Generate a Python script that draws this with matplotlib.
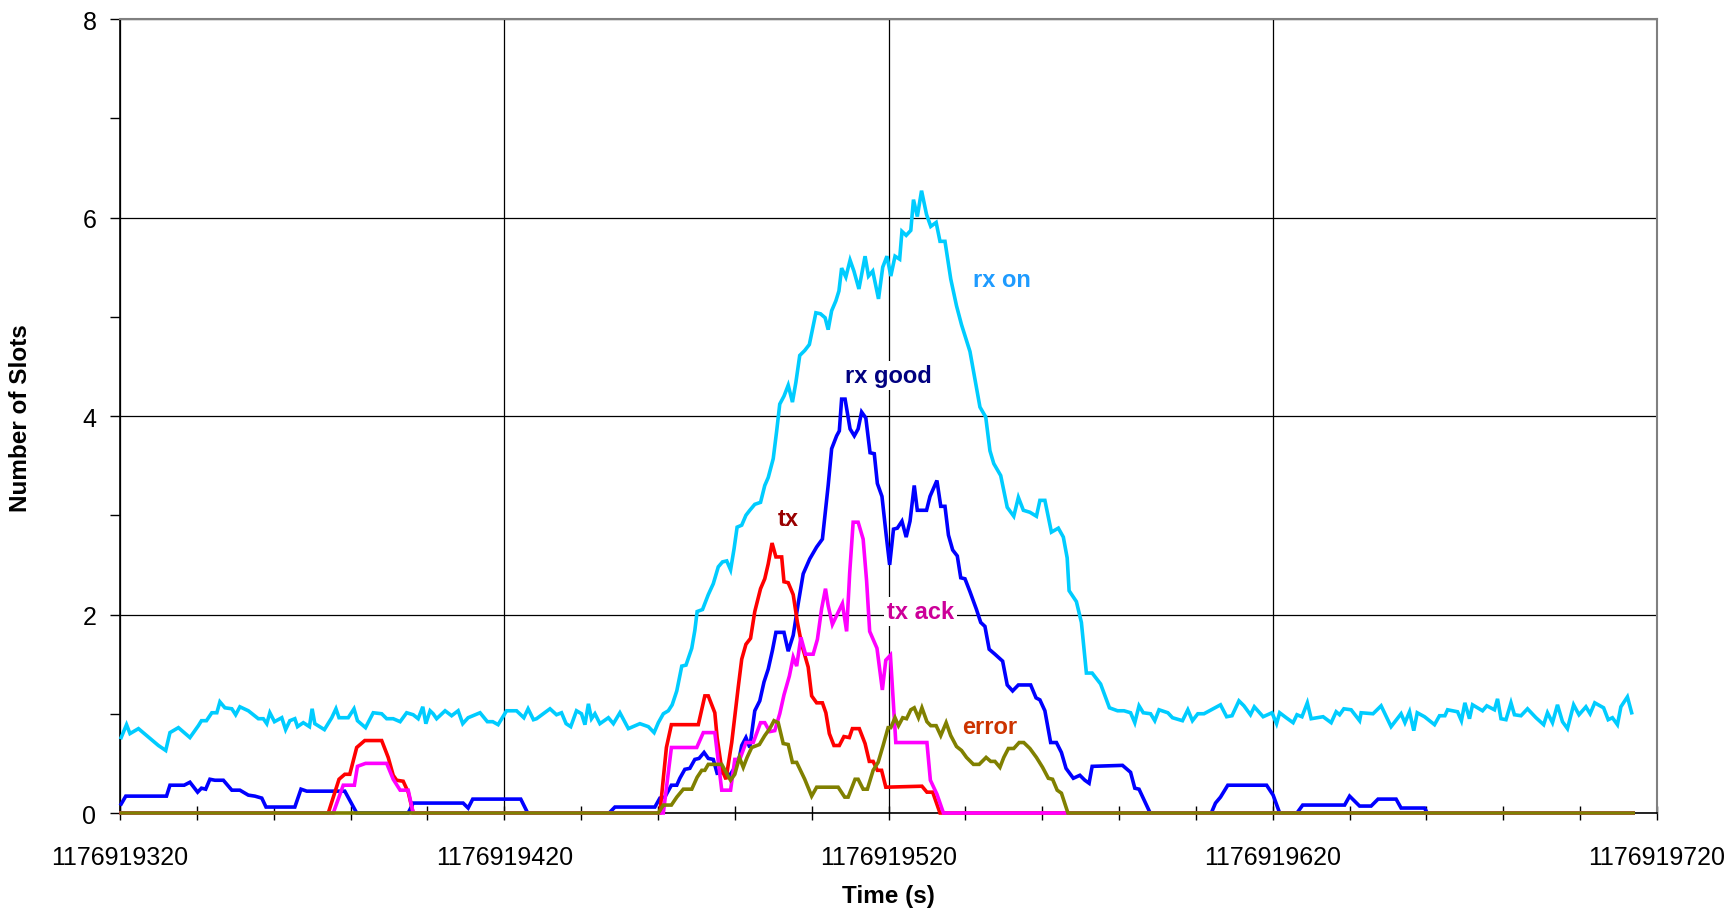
import numpy as np
import matplotlib
matplotlib.use("Agg")
import matplotlib.pyplot as plt
from matplotlib.ticker import FixedLocator, FuncFormatter

plt.rcParams['font.family'] = ['Liberation Sans', 'DejaVu Sans']

# time is given as seconds after this base
T_BASE = 1176919000

rx_on_t = [320.3, 321.7, 322.6, 324.8, 330.0, 331.9, 333.0, 335.2, 338.2, 340.4, 341.2, 342.5,
           343.9, 345.2, 346.0, 347.3, 349.1, 350.1, 351.2, 353.4, 356.0, 357.3, 358.2, 359.0,
           360.2, 362.1, 363.1, 364.2, 365.5, 366.2, 367.7, 369.3, 370.0, 370.7, 373.2, 375.1,
           376.2, 377.0, 379.4, 380.9, 381.8, 383.9, 385.9, 388.1, 389.4, 391.1, 392.9, 394.6,
           396.3, 397.6, 398.8, 399.6, 400.7, 401.5, 402.4, 404.6, 406.3, 408.0, 409.2, 410.6,
           413.7, 415.6, 417.0, 418.4, 420.6, 423.2, 425.1, 426.2, 427.6, 428.4, 431.9, 433.6,
           434.9, 436.1, 437.3, 438.8, 440.1, 441.0, 441.9, 442.7, 443.6, 444.9, 447.1, 448.4,
           450.1, 452.3, 455.3, 457.5, 459.0, 460.1, 461.4, 462.7, 463.7, 464.9, 466.2, 467.3,
           468.8, 469.6, 470.2, 471.6, 473.1, 474.4, 475.7, 476.8, 477.9, 478.9, 479.8, 480.6,
           481.8, 482.9, 483.9, 485.2, 486.7, 487.8, 488.7, 490.0, 490.9, 491.7, 492.8, 493.9,
           495.0, 495.9, 496.9, 498.2, 499.4, 500.3, 501.1, 502.3, 503.5, 504.3, 505.2, 506.3,
           507.1, 507.8, 508.9, 510.0, 511.0, 512.3, 513.9, 514.8, 515.9, 517.4, 518.5, 519.6,
           520.6, 521.7, 522.9, 523.5, 524.6, 525.8, 526.5, 527.5, 528.6, 529.9, 531.0, 532.4,
           533.4, 534.7, 536.2, 537.7, 539.0, 541.2, 543.8, 545.3, 546.4, 547.4, 549.2, 550.9,
           552.6, 553.8, 555.1, 556.8, 558.5, 559.4, 560.7, 562.4, 564.2, 565.5, 566.5, 567.0,
           568.9, 570.2, 571.5, 573.0, 575.2, 577.5, 579.6, 581.3, 583.0, 584.1, 585.2, 586.3,
           588.2, 589.3, 590.4, 592.7, 593.9, 596.5, 597.9, 599.1, 600.5, 602.1, 604.5, 606.4,
           608.0, 609.4, 611.2, 612.5, 614.2, 615.2, 617.5, 619.8, 621.0, 621.8, 623.5, 625.3,
           626.3, 627.6, 629.0, 630.0, 633.1, 635.2, 636.5, 637.4, 638.5, 640.4, 642.6, 643.0,
           646.1, 648.2, 650.8, 653.4, 654.4, 655.6, 656.7, 657.6, 659.5, 662.1, 663.4, 664.8,
           665.5, 668.1, 669.1, 670.0, 671.2, 672.0, 674.6, 675.7, 677.7, 678.5, 679.4, 680.7,
           682.0, 682.9, 684.6, 686.3, 688.5, 690.5, 691.5, 692.8, 694.1, 695.4, 696.7, 698.3,
           699.7, 701.5, 702.6, 703.8, 706.1, 707.3, 708.4, 709.7, 710.6, 712.3, 713.4]
rx_on_v = [0.76, 0.89, 0.80, 0.85, 0.68, 0.63, 0.81, 0.86, 0.76, 0.88, 0.93, 0.93,
           1.01, 1.01, 1.12, 1.06, 1.05, 0.99, 1.07, 1.03, 0.95, 0.95, 0.90, 1.01,
           0.92, 0.96, 0.84, 0.93, 0.95, 0.87, 0.91, 0.87, 1.05, 0.90, 0.84, 0.96,
           1.05, 0.96, 0.96, 1.05, 0.93, 0.86, 1.01, 1.00, 0.95, 0.95, 0.92, 1.01,
           0.99, 0.95, 1.07, 0.90, 1.03, 1.00, 0.95, 1.03, 0.98, 1.03, 0.90, 0.96,
           1.01, 0.92, 0.92, 0.89, 1.03, 1.03, 0.96, 1.05, 0.94, 0.95, 1.05, 0.99,
           1.01, 0.90, 0.87, 1.03, 1.00, 0.89, 1.10, 0.95, 1.00, 0.90, 0.96, 0.90,
           1.01, 0.85, 0.90, 0.87, 0.81, 0.91, 1.00, 1.03, 1.09, 1.23, 1.48, 1.49,
           1.66, 1.84, 2.03, 2.05, 2.20, 2.31, 2.48, 2.53, 2.54, 2.45, 2.66, 2.88,
           2.90, 3.00, 3.05, 3.11, 3.13, 3.30, 3.38, 3.57, 3.85, 4.12, 4.20, 4.31,
           4.14, 4.34, 4.61, 4.66, 4.72, 4.89, 5.04, 5.03, 4.99, 4.87, 5.06, 5.16,
           5.26, 5.49, 5.40, 5.57, 5.46, 5.28, 5.61, 5.41, 5.46, 5.18, 5.50, 5.61,
           5.41, 5.61, 5.58, 5.86, 5.82, 5.87, 6.18, 6.01, 6.27, 6.03, 5.91, 5.95,
           5.76, 5.76, 5.38, 5.11, 4.92, 4.65, 4.09, 3.99, 3.65, 3.52, 3.40, 3.08,
           2.99, 3.18, 3.05, 3.03, 2.99, 3.15, 3.15, 2.83, 2.87, 2.78, 2.57, 2.24,
           2.13, 1.92, 1.41, 1.41, 1.30, 1.06, 1.03, 1.03, 1.01, 0.91, 1.08, 1.01,
           1.00, 0.93, 1.04, 1.01, 0.96, 0.93, 1.04, 0.93, 1.00, 1.00, 1.05, 1.09,
           0.97, 0.98, 1.13, 1.08, 0.99, 1.07, 0.97, 1.01, 0.90, 1.01, 0.96, 0.91,
           0.99, 0.97, 1.11, 0.95, 0.97, 0.91, 1.02, 0.99, 1.05, 1.04, 0.93, 1.01,
           1.00, 1.08, 0.87, 1.00, 0.91, 1.02, 0.83, 1.01, 0.97, 0.89, 0.98, 0.98,
           1.04, 1.02, 0.93, 1.11, 0.95, 1.09, 1.03, 1.08, 1.04, 1.15, 0.95, 0.94,
           1.11, 0.99, 0.98, 1.05, 0.96, 0.89, 1.01, 0.91, 1.09, 0.92, 0.85, 1.09,
           0.99, 1.07, 1.00, 1.11, 1.06, 0.94, 0.96, 0.89, 1.07, 1.17, 1.01]

rx_good_t = [320.3, 321.5, 332.1, 333.0, 336.7, 338.2, 340.2, 341.2, 342.3, 343.4, 344.7, 346.9,
             349.1, 351.2, 353.4, 355.1, 356.9, 358.0, 365.5, 367.1, 368.6, 378.5, 381.6, 395.0,
             396.3, 409.3, 410.6, 411.8, 424.3, 426.1, 447.3, 448.8, 459.2, 460.5, 461.8, 463.5,
             464.9, 465.7, 467.0, 468.3, 469.6, 470.7, 472.0, 473.1, 474.4, 475.4, 477.4, 478.7,
             480.5, 481.3, 481.8, 482.9, 483.9, 485.2, 486.5, 487.6, 488.7, 489.8, 490.7, 492.8,
             493.9, 495.2, 496.5, 497.8, 499.5, 501.3, 502.8, 503.4, 504.3, 505.2, 506.5, 507.2,
             507.8, 508.7, 510.0, 511.1, 512.1, 513.0, 514.1, 515.2, 516.3, 517.1, 518.3, 519.4,
             520.3, 521.3, 522.3, 523.5, 524.6, 525.6, 526.7, 527.5, 529.9, 530.8, 532.6, 533.6,
             534.7, 535.6, 536.7, 537.9, 538.8, 539.9, 541.2, 542.9, 544.0, 545.1, 546.2, 547.7,
             549.7, 550.9, 552.3, 553.8, 557.0, 558.4, 559.4, 560.7, 562.2, 563.7, 565.0, 566.2,
             568.1, 569.8, 571.1, 572.2, 573.0, 580.9, 583.0, 584.1, 585.2, 588.1, 604.0, 605.1,
             606.4, 608.3, 618.4, 620.1, 621.8, 626.3, 627.8, 638.7, 640.0, 642.6, 645.6, 647.4,
             652.1, 653.4, 659.5, 660.2, 713.8]
rx_good_v = [0.09, 0.17, 0.17, 0.28, 0.28, 0.31, 0.21, 0.25, 0.24, 0.34, 0.33, 0.33,
             0.23, 0.23, 0.18, 0.17, 0.15, 0.06, 0.06, 0.24, 0.22, 0.22, 0.0, 0.0,
             0.10, 0.10, 0.05, 0.14, 0.14, 0.0, 0.0, 0.06, 0.06, 0.15, 0.16, 0.28,
             0.28, 0.35, 0.44, 0.45, 0.54, 0.55, 0.61, 0.55, 0.54, 0.40, 0.41, 0.38,
             0.49, 0.58, 0.68, 0.76, 0.66, 1.03, 1.13, 1.32, 1.45, 1.64, 1.82, 1.82,
             1.63, 1.79, 2.11, 2.41, 2.56, 2.68, 2.76, 2.98, 3.30, 3.67, 3.80, 3.85,
             4.17, 4.17, 3.87, 3.80, 3.87, 4.04, 3.98, 3.63, 3.62, 3.32, 3.19, 2.80,
             2.50, 2.86, 2.87, 2.94, 2.78, 2.94, 3.30, 3.05, 3.05, 3.19, 3.35, 3.09,
             3.09, 2.80, 2.65, 2.59, 2.37, 2.36, 2.23, 2.05, 1.92, 1.88, 1.65, 1.60,
             1.53, 1.29, 1.23, 1.29, 1.29, 1.16, 1.14, 1.03, 0.71, 0.71, 0.61, 0.45,
             0.35, 0.38, 0.33, 0.30, 0.47, 0.48, 0.41, 0.25, 0.24, 0.0, 0.0, 0.10,
             0.16, 0.28, 0.28, 0.18, 0.0, 0.0, 0.08, 0.08, 0.17, 0.07, 0.07, 0.14,
             0.14, 0.05, 0.05, 0.0, 0.0]

tx_t = [320.3, 374.2, 377.0, 378.5, 379.8, 381.6, 383.7, 388.1, 389.8, 391.1, 392.0, 393.7,
        395.0, 396.3, 460.5, 462.2, 463.5, 470.5, 472.2, 473.1, 474.8, 475.4, 476.6, 477.7,
        479.2, 480.9, 481.8, 482.9, 484.1, 485.2, 486.7, 487.8, 488.7, 489.7, 490.7, 492.2,
        492.8, 493.9, 495.2, 496.3, 497.4, 499.1, 500.0, 501.3, 502.8, 503.7, 504.6, 505.8,
        507.2, 508.4, 509.8, 510.6, 512.4, 513.9, 515.0, 516.0, 517.1, 518.2, 519.3, 528.7,
        530.0, 531.5, 533.4, 713.8]
tx_v = [0.0, 0.0, 0.34, 0.39, 0.39, 0.66, 0.73, 0.73, 0.56, 0.38, 0.33, 0.32,
        0.21, 0.0, 0.0, 0.66, 0.89, 0.89, 1.18, 1.18, 1.01, 0.76, 0.44, 0.34,
        0.71, 1.27, 1.55, 1.70, 1.76, 2.03, 2.26, 2.36, 2.51, 2.72, 2.58, 2.58,
        2.33, 2.32, 2.20, 1.92, 1.70, 1.47, 1.18, 1.11, 1.11, 1.01, 0.80, 0.68,
        0.68, 0.77, 0.76, 0.85, 0.85, 0.70, 0.52, 0.52, 0.43, 0.43, 0.26, 0.27,
        0.21, 0.21, 0.0, 0.0]

tx_ack_t = [320.3, 375.5, 378.1, 381.0, 381.8, 383.9, 389.4, 391.1, 392.9, 395.0, 396.3, 461.4,
            463.5, 470.1, 471.8, 474.8, 476.6, 478.9, 480.0, 481.3, 482.9, 484.8, 486.7, 487.8,
            489.1, 490.4, 491.7, 492.8, 494.2, 495.2, 496.1, 497.2, 498.4, 500.4, 501.5, 502.6,
            503.6, 504.3, 505.4, 506.5, 508.0, 509.1, 509.9, 510.8, 512.1, 513.4, 514.3, 515.1,
            517.0, 518.4, 519.3, 520.5, 521.9, 530.0, 530.9, 532.6, 534.3, 713.8]
tx_ack_v = [0.0, 0.0, 0.28, 0.28, 0.47, 0.50, 0.50, 0.34, 0.23, 0.23, 0.0, 0.0,
            0.66, 0.66, 0.81, 0.81, 0.23, 0.23, 0.54, 0.54, 0.71, 0.71, 0.91, 0.91,
            0.82, 0.83, 1.00, 1.19, 1.38, 1.57, 1.48, 1.77, 1.60, 1.60, 1.75, 2.06,
            2.26, 2.09, 1.90, 1.99, 2.11, 1.83, 2.42, 2.93, 2.93, 2.76, 2.34, 1.83,
            1.66, 1.24, 1.54, 1.59, 0.71, 0.71, 0.33, 0.19, 0.0, 0.0]

error_t = [320.3, 460.1, 461.4, 463.5, 464.9, 466.6, 468.8, 470.2, 471.4, 472.2, 473.1, 476.6,
           478.0, 478.9, 480.0, 481.2, 482.2, 483.2, 484.4, 486.4, 487.8, 489.1, 490.2, 491.3,
           492.6, 493.9, 495.0, 496.1, 498.2, 500.0, 501.3, 506.9, 508.6, 509.5, 511.3, 512.1,
           513.4, 514.5, 516.0, 517.3, 518.6, 519.9, 520.6, 521.7, 522.6, 523.7, 524.7, 525.8,
           526.7, 527.8, 528.7, 530.0, 531.0, 532.4, 533.6, 535.0, 536.2, 537.7, 539.0, 540.3,
           542.1, 543.6, 545.4, 546.6, 547.7, 549.0, 550.0, 551.2, 552.6, 554.0, 555.2, 556.8,
           558.5, 560.1, 561.6, 562.7, 563.9, 565.0, 566.7, 713.8]
error_v = [0.0, 0.0, 0.08, 0.08, 0.16, 0.24, 0.24, 0.36, 0.43, 0.43, 0.49, 0.49,
           0.39, 0.33, 0.39, 0.56, 0.46, 0.56, 0.66, 0.69, 0.78, 0.85, 0.93, 0.91,
           0.70, 0.69, 0.51, 0.51, 0.34, 0.17, 0.26, 0.26, 0.16, 0.16, 0.34, 0.34,
           0.24, 0.24, 0.43, 0.51, 0.68, 0.86, 0.86, 0.96, 0.88, 0.96, 0.95, 1.04,
           1.06, 0.96, 1.06, 0.92, 0.88, 0.88, 0.78, 0.91, 0.78, 0.67, 0.63, 0.56,
           0.49, 0.49, 0.56, 0.52, 0.52, 0.46, 0.56, 0.65, 0.65, 0.71, 0.71, 0.65,
           0.56, 0.46, 0.35, 0.34, 0.23, 0.20, 0.0, 0.0]

series = [
    ("rx on", rx_on_t, rx_on_v, "#00CCFF"),
    ("rx good", rx_good_t, rx_good_v, "#0000FF"),
    ("tx", tx_t, tx_v, "#FF0000"),
    ("tx ack", tx_ack_t, tx_ack_v, "#FF00FF"),
    ("error", error_t, error_v, "#808000"),
]

# in-plot labels: name, time, value, colour
labels = [
    ("rx on", 549.6, 5.38, "#1E9BFF"),
    ("rx good", 519.9, 4.41, "#000080"),
    ("tx", 494.0, 2.97, "#990000"),
    ("tx ack", 528.4, 2.03, "#CC0099"),
    ("error", 546.4, 0.87, "#CC3300"),
]

x_major = [320, 420, 520, 620, 720]
x_minor = list(range(320, 721, 20))

fig = plt.figure(figsize=(17.3, 9.12), dpi=100)
ax = fig.add_axes([120 / 1730, 1 - 814 / 912, 1537 / 1730, 794 / 912])

for name, t, v, col in series:
    ax.plot(np.array(t) + T_BASE, v, color=col, linewidth=2.6, zorder=3,
            clip_on=False, solid_joinstyle='miter')

for name, t, v, col in labels:
    ax.text(t + T_BASE, v, name, color=col, fontsize=17, fontweight='bold',
            ha='center', va='center', zorder=2.5,
            bbox=dict(facecolor='white', edgecolor='none', pad=2))

ax.set_xlim(T_BASE + 320, T_BASE + 720)
ax.set_ylim(0, 8)
ax.xaxis.set_major_locator(FixedLocator([T_BASE + x for x in x_major]))
ax.xaxis.set_minor_locator(FixedLocator([T_BASE + x for x in x_minor]))
ax.yaxis.set_major_locator(FixedLocator([0, 2, 4, 6, 8]))
ax.yaxis.set_minor_locator(FixedLocator([1, 3, 5, 7]))
ax.xaxis.set_major_formatter(FuncFormatter(lambda x, p: f"{int(round(x))}"))
ax.yaxis.set_major_formatter(FuncFormatter(lambda y, p: f"{int(round(y))}"))

ax.grid(True, which='major', color='black', linewidth=0.9)
ax.set_axisbelow(True)

ax.tick_params(axis='x', which='both', direction='inout', length=10, width=1,
               labelsize=18, pad=18)
ax.tick_params(axis='y', which='both', direction='out', length=7, width=1,
               labelsize=18, pad=10)

for side in ['top', 'right']:
    ax.spines[side].set_color('#808080')
    ax.spines[side].set_linewidth(1.5)
for side in ['left', 'bottom']:
    ax.spines[side].set_color('black')
    ax.spines[side].set_linewidth(1.2)

fig.text(888.5 / 1730, 1 - 897 / 912, "Time (s)", fontsize=17.5, fontweight='bold',
         ha='center', va='center')
fig.text(21 / 1730, 1 - 418 / 912, "Number of Slots", fontsize=17.5, fontweight='bold',
         ha='center', va='center', rotation=90)

fig.savefig("out.png", dpi=100)
plt.close(fig)
